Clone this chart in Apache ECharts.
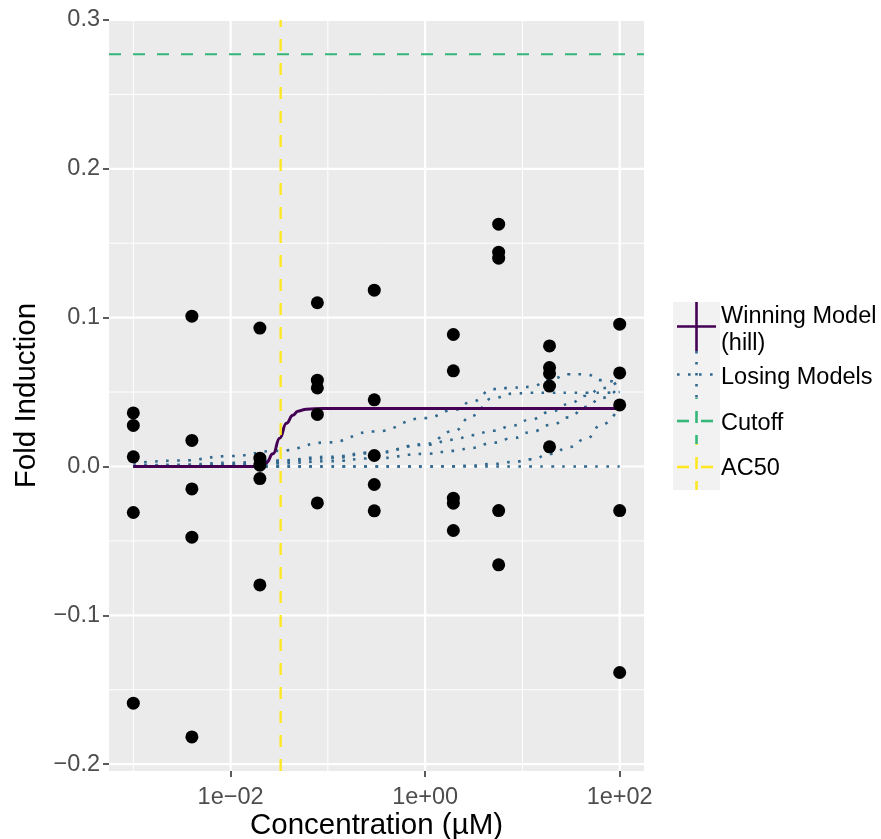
<!DOCTYPE html>
<html><head><meta charset="utf-8">
<script src="https://cdn.jsdelivr.net/npm/echarts@6/dist/echarts.min.js"></script>
<style>html,body{margin:0;padding:0;background:#fff}#c{width:881px;height:839px}</style>
</head><body><div id="c"></div>
<script>
// ---- data (concentrations in µM, responses as fold induction) ----
const pointConc = [
  0.001,0.001,0.001,0.001,0.001,
  0.004,0.004,0.004,0.004,0.004,
  0.02,0.02,0.02,0.02,0.02,
  0.078,0.078,0.078,0.078,0.078,
  0.3,0.3,0.3,0.3,0.3,
  1.95,1.95,1.95,1.95,1.95,
  5.7,5.7,5.7,5.7,5.7,
  19,19,19,19,19,
  100,100,100,100,100];
const pointResp = [
  0.0360,0.0276,0.0065,-0.0309,-0.1590,
  0.1010,0.0175,-0.0151,-0.0475,-0.1817,
  0.0930,0.0056,0.0009,-0.0081,-0.0796,
  0.1100,0.0580,0.0528,0.0350,-0.0245,
  0.1185,0.0448,0.0074,-0.0121,-0.0298,
  0.0887,0.0643,-0.0213,-0.0247,-0.0430,
  0.1628,0.1440,0.1400,-0.0296,-0.0661,
  0.0810,0.0665,0.0625,0.0540,0.0132,
  0.0956,0.0629,0.0414,-0.0296,-0.1384];

// winning model (hill)
const hillConc = [0.001,0.0158,0.02,0.0233,0.0273,0.032,0.0375,0.0437,0.0493,0.0601,0.0885,100];
const hillResp = [0,0,0.0003,0.0025,0.0085,0.019,0.029,0.0345,0.0372,0.0385,0.039,0.039];

// losing models
const lossConc = [0.001,0.003,0.01,0.03,0.1,0.3,1,2,3,5,8,12,20,30,45,65,100];
const lossCnst = [0,0,0,0,0,0,0,0,0,0,0,0,0,0,0,0,0];
const lossA = [0.002,0.004,0.007,0.0105,0.0162,0.0235,0.0325,0.038,0.0435,0.052,0.053,0.0535,0.059,0.062,0.062,0.058,0.056];
const lossB = [0,0.0005,0.0015,0.003,0.0055,0.009,0.015,0.024,0.034,0.046,0.049,0.0495,0.0495,0.0495,0.0495,0.0495,0.05];
const lossC = [0,0.0003,0.001,0.002,0.0035,0.0055,0.0085,0.0105,0.0125,0.016,0.019,0.023,0.028,0.033,0.04,0.046,0.054];
const lossD = [0.0005,0.0012,0.0025,0.004,0.0065,0.0095,0.0145,0.018,0.021,0.024,0.0275,0.0315,0.037,0.042,0.0475,0.0525,0.058];
const lossE = [0,0,0,0,0,0,0,0.0002,0.0006,0.0017,0.003,0.0048,0.0085,0.013,0.0185,0.028,0.041];

const cutoff = 0.277;
const ac50 = 0.0327;

// axes
const xTickConc = [0.01, 1, 100];
const xTickLabels = ['1e\u221202', '1e+00', '1e+02'];
const xMinorConc = [0.001, 0.1, 10];
const yTicks = [-0.2, -0.1, 0, 0.1, 0.2, 0.3];
const yMinor = [-0.15, -0.05, 0.05, 0.15, 0.25];
const xRange = [-3.25, 2.25];     // log10 extent
const yRange = [-0.2046, 0.3];

// ---- build ----
const L = v => Math.log10(v);
const FONT = "'Liberation Sans', Arial, Helvetica, sans-serif";
const zip = (xs, ys) => xs.map((x, i) => [L(x), ys[i]]);

const series = [];
function vline(xl, color, width, type, z) {
  series.push({type:'line', data:[[xl, yRange[0]],[xl, yRange[1]]], symbol:'none', silent:true,
    animation:false, z:z, lineStyle:{color:color, width:width, type:type}});
}
function hline(y, color, width, type, z) {
  series.push({type:'line', data:[[xRange[0], y],[xRange[1], y]], symbol:'none', silent:true,
    animation:false, z:z, lineStyle:{color:color, width:width, type:type}});
}
xMinorConc.forEach(v => vline(L(v), '#FFFFFF', 1, 'solid', 1));
yMinor.forEach(v => hline(v, '#FFFFFF', 1, 'solid', 1));
xTickConc.forEach(v => vline(L(v), '#FFFFFF', 2.2, 'solid', 1));
yTicks.forEach(v => hline(v, '#FFFFFF', 2.2, 'solid', 1));

[lossCnst, lossA, lossB, lossC, lossD, lossE].forEach(arr => {
  series.push({type:'line', data: zip(lossConc, arr), symbol:'none', smooth:true, smoothMonotone:'x',
    silent:true, animation:false, z:2,
    lineStyle:{color:'#31688E', width:2.6, type:[2.6, 8.4], cap:'butt'}});
});
series.push({type:'line', data: zip(hillConc, hillResp), symbol:'none', smooth:true, smoothMonotone:'x',
  silent:true, animation:false, z:3, lineStyle:{color:'#440154', width:3}});
hline(cutoff, '#35B779', 2, [12, 12], 4);
vline(L(ac50), '#FDE725', 2.4, [12, 12], 4);
series.push({type:'scatter', data: zip(pointConc, pointResp), symbol:'circle', symbolSize:13,
  itemStyle:{color:'#000000', opacity:1}, silent:true, animation:false, z:5});

// legend drawn as graphic
const legendItems = [
  {top:302, bottom:351, color:'#440154', dash:null},
  {top:351, bottom:398, color:'#31688E', dash:[2.6, 8.4]},
  {top:398, bottom:444, color:'#35B779', dash:[12, 12]},
  {top:444, bottom:490, color:'#FDE725', dash:[12, 12]}
];
const legendTexts = [
  ['Winning Model', 317], ['(hill)', 344], ['Losing Models', 378], ['Cutoff', 424], ['AC50', 469]
];
const graphic = [{type:'rect', shape:{x:673, y:302, width:47, height:188}, style:{fill:'#F2F2F2'}, z:10}];
legendItems.forEach(it => {
  const cy = (it.top + it.bottom) / 2;
  graphic.push({type:'line', shape:{x1:677, y1:cy, x2:716, y2:cy}, z:11,
    style:{stroke:it.color, lineWidth:2.6, lineDash:it.dash || null}});
  graphic.push({type:'line', shape:{x1:696.5, y1:it.top, x2:696.5, y2:it.bottom}, z:11,
    style:{stroke:it.color, lineWidth:2.6, lineDash:it.dash || null, lineDashOffset: it.dash ? 11 : 0}});
});
legendTexts.forEach(t => {
  graphic.push({type:'text', x:721, y:t[1], z:11,
    style:{text:t[0], fill:'#000000', font:'23.5px ' + FONT, textVerticalAlign:'middle', verticalAlign:'middle'}});
});

const chart = echarts.init(document.getElementById('c'), null, {renderer:'canvas'});
chart.setOption({
  animation:false,
  backgroundColor:'#FFFFFF',
  textStyle:{fontFamily:FONT},
  grid:{left:109, right:237, top:20, bottom:68, show:true, backgroundColor:'#EBEBEB', borderWidth:0,
    containLabel:false, outerBoundsMode:'none'},
  xAxis:{type:'value', min:xRange[0], max:xRange[1],
    name:'Concentration (\u00B5M)', nameLocation:'middle', nameGap:40, nameMoveOverlap:false,
    nameTextStyle:{fontSize:29.5, color:'#000000', fontFamily:FONT},
    axisLine:{show:false, onZero:false}, splitLine:{show:false},
    axisTick:{show:true, length:6, lineStyle:{color:'#333333', width:1.6}, customValues: xTickConc.map(L)},
    axisLabel:{show:true, fontSize:23.5, color:'#4D4D4D', margin:15, fontFamily:FONT, customValues: xTickConc.map(L),
      formatter: v => { const i = xTickConc.findIndex(c => Math.abs(L(c) - v) < 1e-6); return i >= 0 ? xTickLabels[i] : ''; }}
  },
  yAxis:{type:'value', min:yRange[0], max:yRange[1],
    name:'Fold Induction', nameLocation:'middle', nameGap:67, nameRotate:90,
    nameTextStyle:{fontSize:29.5, color:'#000000', fontFamily:FONT},
    axisLine:{show:false, onZero:false}, splitLine:{show:false},
    axisTick:{show:true, length:6, lineStyle:{color:'#333333', width:1.6}, customValues: yTicks},
    axisLabel:{show:true, fontSize:23.5, color:'#4D4D4D', margin:9, fontFamily:FONT, customValues: yTicks,
      padding:[5,0,0,0],
      formatter: v => v.toFixed(1).replace('-', '\u2212')}
  },
  series: series,
  graphic: graphic
});
</script></body></html>
